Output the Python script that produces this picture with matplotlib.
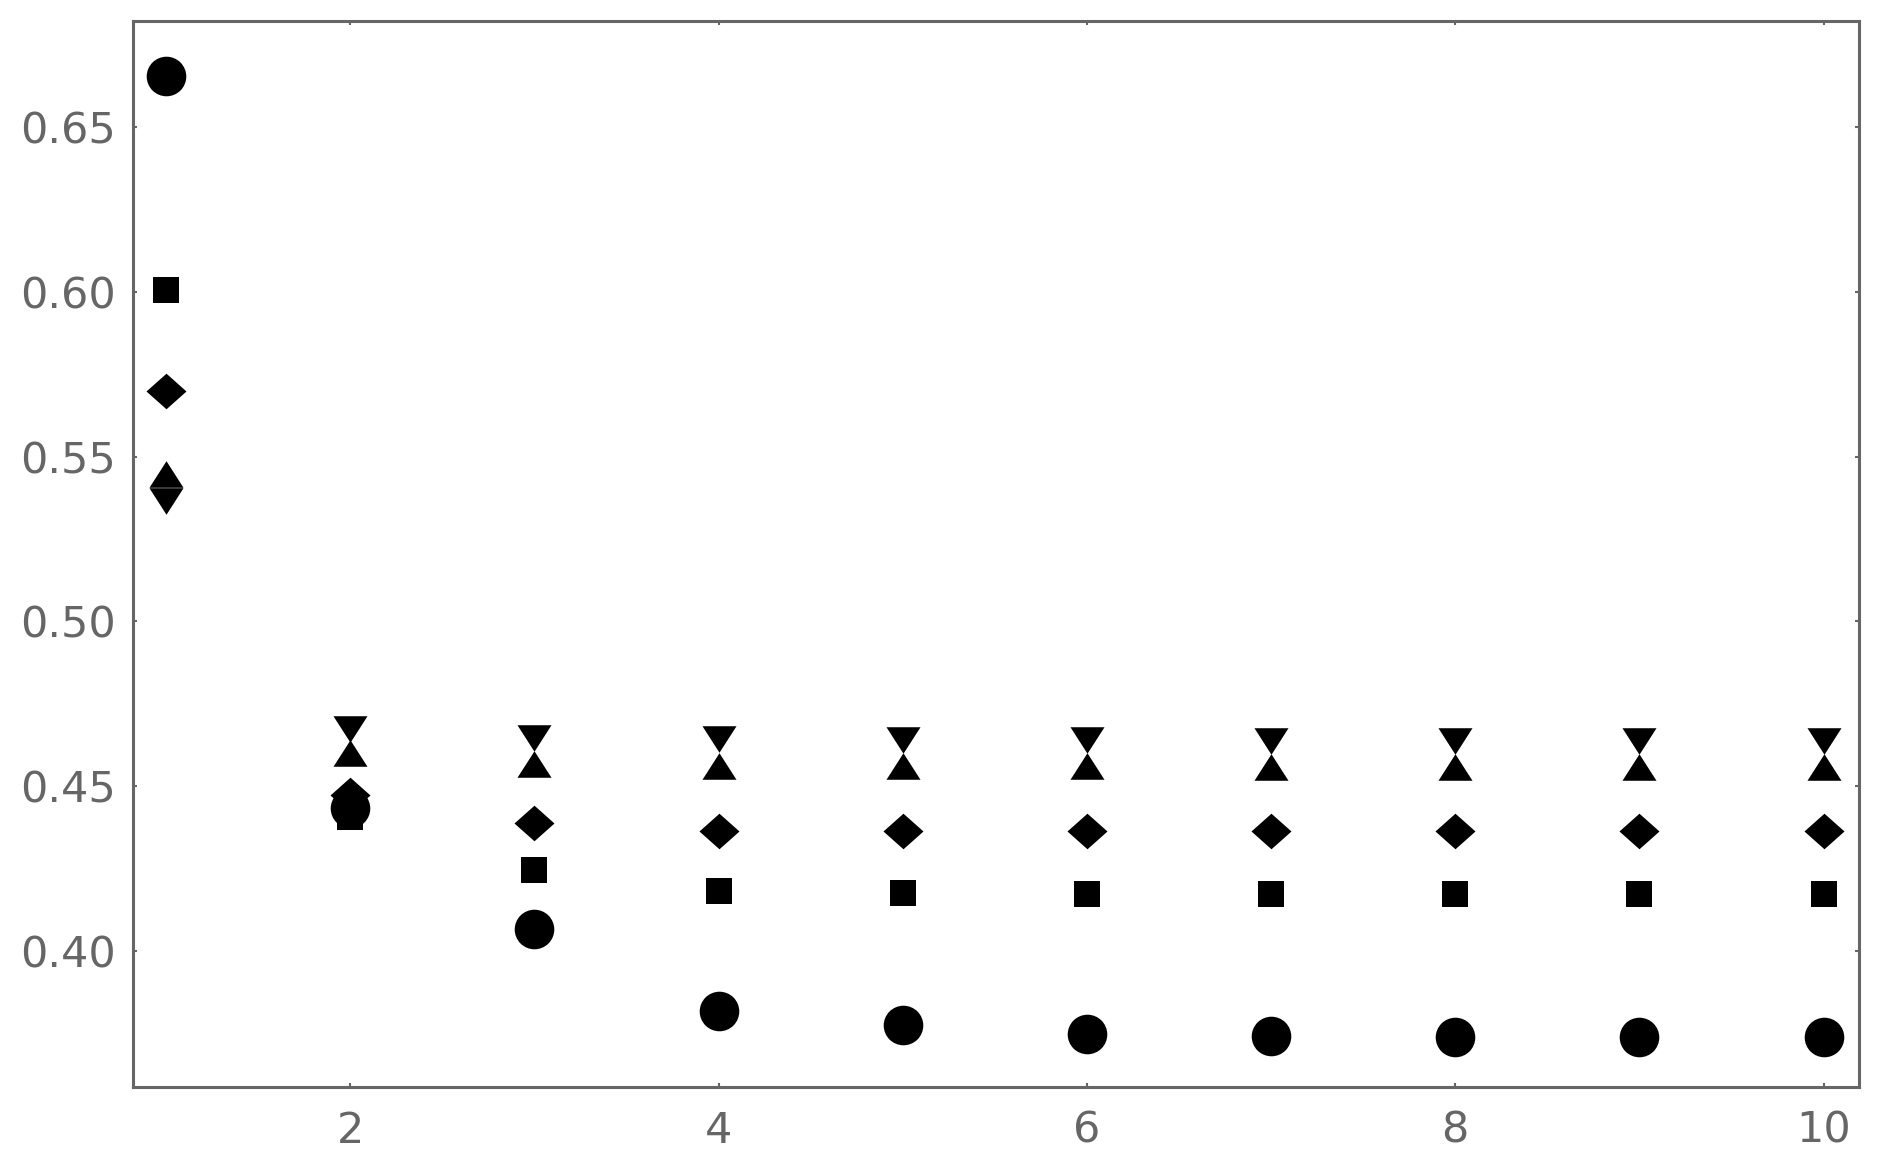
import matplotlib
matplotlib.use("Agg")
import matplotlib.pyplot as plt
from matplotlib.ticker import FormatStrFormatter

# ---- data ----
x = [1, 2, 3, 4, 5, 6, 7, 8, 9, 10]
circle_vals = [0.6655, 0.4433, 0.4064, 0.3816, 0.3773, 0.3745, 0.3741, 0.3738, 0.3737, 0.3736]
square_vals = [0.6005, 0.4406, 0.4246, 0.4181, 0.4176, 0.4173, 0.4173, 0.4173, 0.4173, 0.4173]
diamond_vals = [0.5699, 0.4473, 0.4388, 0.4363, 0.4362, 0.4362, 0.4362, 0.4362, 0.4362, 0.4362]
up_tri_vals = [0.5447, 0.4601, 0.4565, 0.4561, 0.4559, 0.4559, 0.4558, 0.4558, 0.4558, 0.4558]
down_tri_vals = [0.5365, 0.4672, 0.4644, 0.4641, 0.4639, 0.4638, 0.4637, 0.4637, 0.4636, 0.4636]

x_ticks = [2, 4, 6, 8, 10]
y_ticks = [0.40, 0.45, 0.50, 0.55, 0.60, 0.65]

# ---- figure ----
gray = "#666666"
fig = plt.figure(figsize=(18.8, 11.73), dpi=100)
ax = fig.add_axes([0.0705, 0.0729, 0.9181, 0.9092])

diamond_marker = [(-1, 0), (0, 0.89), (1, 0), (0, -0.89), (-1, 0)]
up_marker = [(0, 0.78), (1, -0.78), (-1, -0.78), (0, 0.78)]
down_marker = [(0, -0.78), (1, 0.78), (-1, 0.78), (0, -0.78)]

common = dict(linestyle="none", color="black", markeredgewidth=0)
ax.plot(x, circle_vals, marker="o", markersize=28.5, **common)
ax.plot(x, square_vals, marker="s", markersize=18.7, **common)
ax.plot(x, diamond_vals, marker=diamond_marker, markersize=28.8, **common)
ax.plot(x, up_tri_vals, marker=up_marker, markersize=24.5, **common)
ax.plot(x, down_tri_vals, marker=down_marker, markersize=24.5, **common)

ax.set_xlim(0.8177, 10.19)
ax.set_ylim(0.3584, 0.6823)
ax.set_xticks(x_ticks)
ax.set_yticks(y_ticks)
ax.yaxis.set_major_formatter(FormatStrFormatter("%.2f"))

for s in ax.spines.values():
    s.set_color(gray)
    s.set_linewidth(2.2)

ax.tick_params(axis="both", which="major", direction="in", length=3, width=1.5,
               color=gray, labelcolor=gray, labelsize=31,
               top=True, right=True, labeltop=False, labelright=False)
ax.tick_params(axis="x", pad=16)
ax.tick_params(axis="y", pad=12)
for lbl in ax.get_xticklabels() + ax.get_yticklabels():
    lbl.set_family("DejaVu Sans")

fig.savefig("out.png", dpi=100)
